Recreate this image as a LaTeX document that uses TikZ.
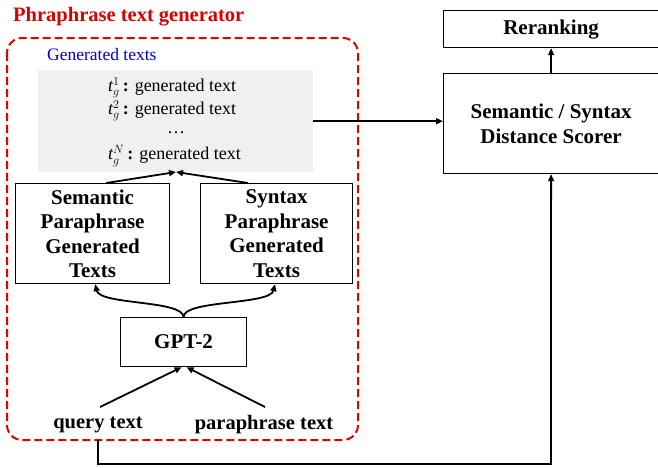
\documentclass[tikz,border=0pt]{standalone}
\usepackage{fontspec}
\setmainfont{Liberation Serif}
\usetikzlibrary{arrows.meta}
\begin{document}
\begin{tikzpicture}[x=1pt,y=-1pt,
  box/.style={draw=black,line width=1.2pt,font=\bfseries\fontsize{21}{24.5}\selectfont,align=center,inner sep=0pt},
  arr/.style={line width=1.8pt,-{Triangle[length=7pt,width=6pt]}},
  lbl/.style={font=\bfseries\fontsize{20.5}{22}\selectfont,inner sep=0pt}]
\useasboundingbox (0,0) rectangle (658,467);
\node[anchor=west,text=red!85!black,font=\bfseries\fontsize{20.5}{22}\selectfont,inner sep=0pt] (title) at (13,17) {Phraphrase text generator};
\draw[red!90!black,line width=2pt,dash pattern=on 8pt off 4pt,rounded corners=15pt] (7,38) rectangle (358,440);
\node[anchor=west,text=blue!80!black,font=\fontsize{17.5}{19}\selectfont,inner sep=0pt] (gentitle) at (47,55) {Generated texts};
\node[fill=black!6,minimum width=275pt,minimum height=102pt,inner sep=0pt,anchor=north west] (gen) at (38,70) {};
\begin{scope}[font=\fontsize{18}{20}\selectfont]
\node[anchor=west,inner sep=0pt] (l1) at (108,88) {$\mathit{t}_{g}^{1}$\,\textbf{:} generated text};
\node[anchor=west,inner sep=0pt] (l2) at (108,111) {$\mathit{t}_{g}^{2}$\,\textbf{:} generated text};
\node[inner sep=0pt] (l3) at (176,133) {\dots};
\node[anchor=west,inner sep=0pt] (l4) at (108,156) {$\mathit{t}_{g}^{N}$\,\textbf{:} generated text};
\end{scope}
\node[box,minimum width=154pt,minimum height=100pt,anchor=north west] (sem) at (15,183) {Semantic\\Paraphrase\\Generated\\Texts};
\node[box,minimum width=152pt,minimum height=100pt,anchor=north west] (syn) at (200,183) {Syntax\\Paraphrase\\Generated\\Texts};
\node[box,minimum width=126pt,minimum height=49pt,anchor=north west] (gpt) at (120,317) {GPT-2};
\node[lbl] (query) at (98,425) {query text};
\node[lbl] (para) at (264,425) {paraphrase text};
\node[box,minimum width=215pt,minimum height=37pt,anchor=north west] (rer) at (443,10) {Reranking};
\node[box,minimum width=215pt,minimum height=100pt,anchor=north west] (sc) at (443,73) {Semantic / Syntax\\Distance Scorer};
% arrows
\coordinate (gtop) at (176,172);
\coordinate (qa) at (100,407);
\coordinate (pa) at (265,407);
\coordinate (qb) at (98,440);
\draw[arr] ([xshift=-64pt]sem.north east) -- (gtop);
\draw[arr] ([xshift=48pt]syn.north west) -- (gtop);
\draw[arr] (gpt.north) .. controls (183,300) and (100,305) .. ([xshift=-75pt]sem.south east);
\draw[arr] (gpt.north) .. controls (183,300) and (270,305) .. ([xshift=75pt]syn.south west);
\draw[arr] (qa) -- ([xshift=-2pt]gpt.south);
\draw[arr] (pa) -- ([xshift=3pt]gpt.south);
\draw[arr] (gen.east) -- (sc.west |- gen.east);
\draw[arr] (sc.north) -- (rer.south);
\draw[arr] (qb) |- (551,464) -- (sc.south);
\end{tikzpicture}
\end{document}
